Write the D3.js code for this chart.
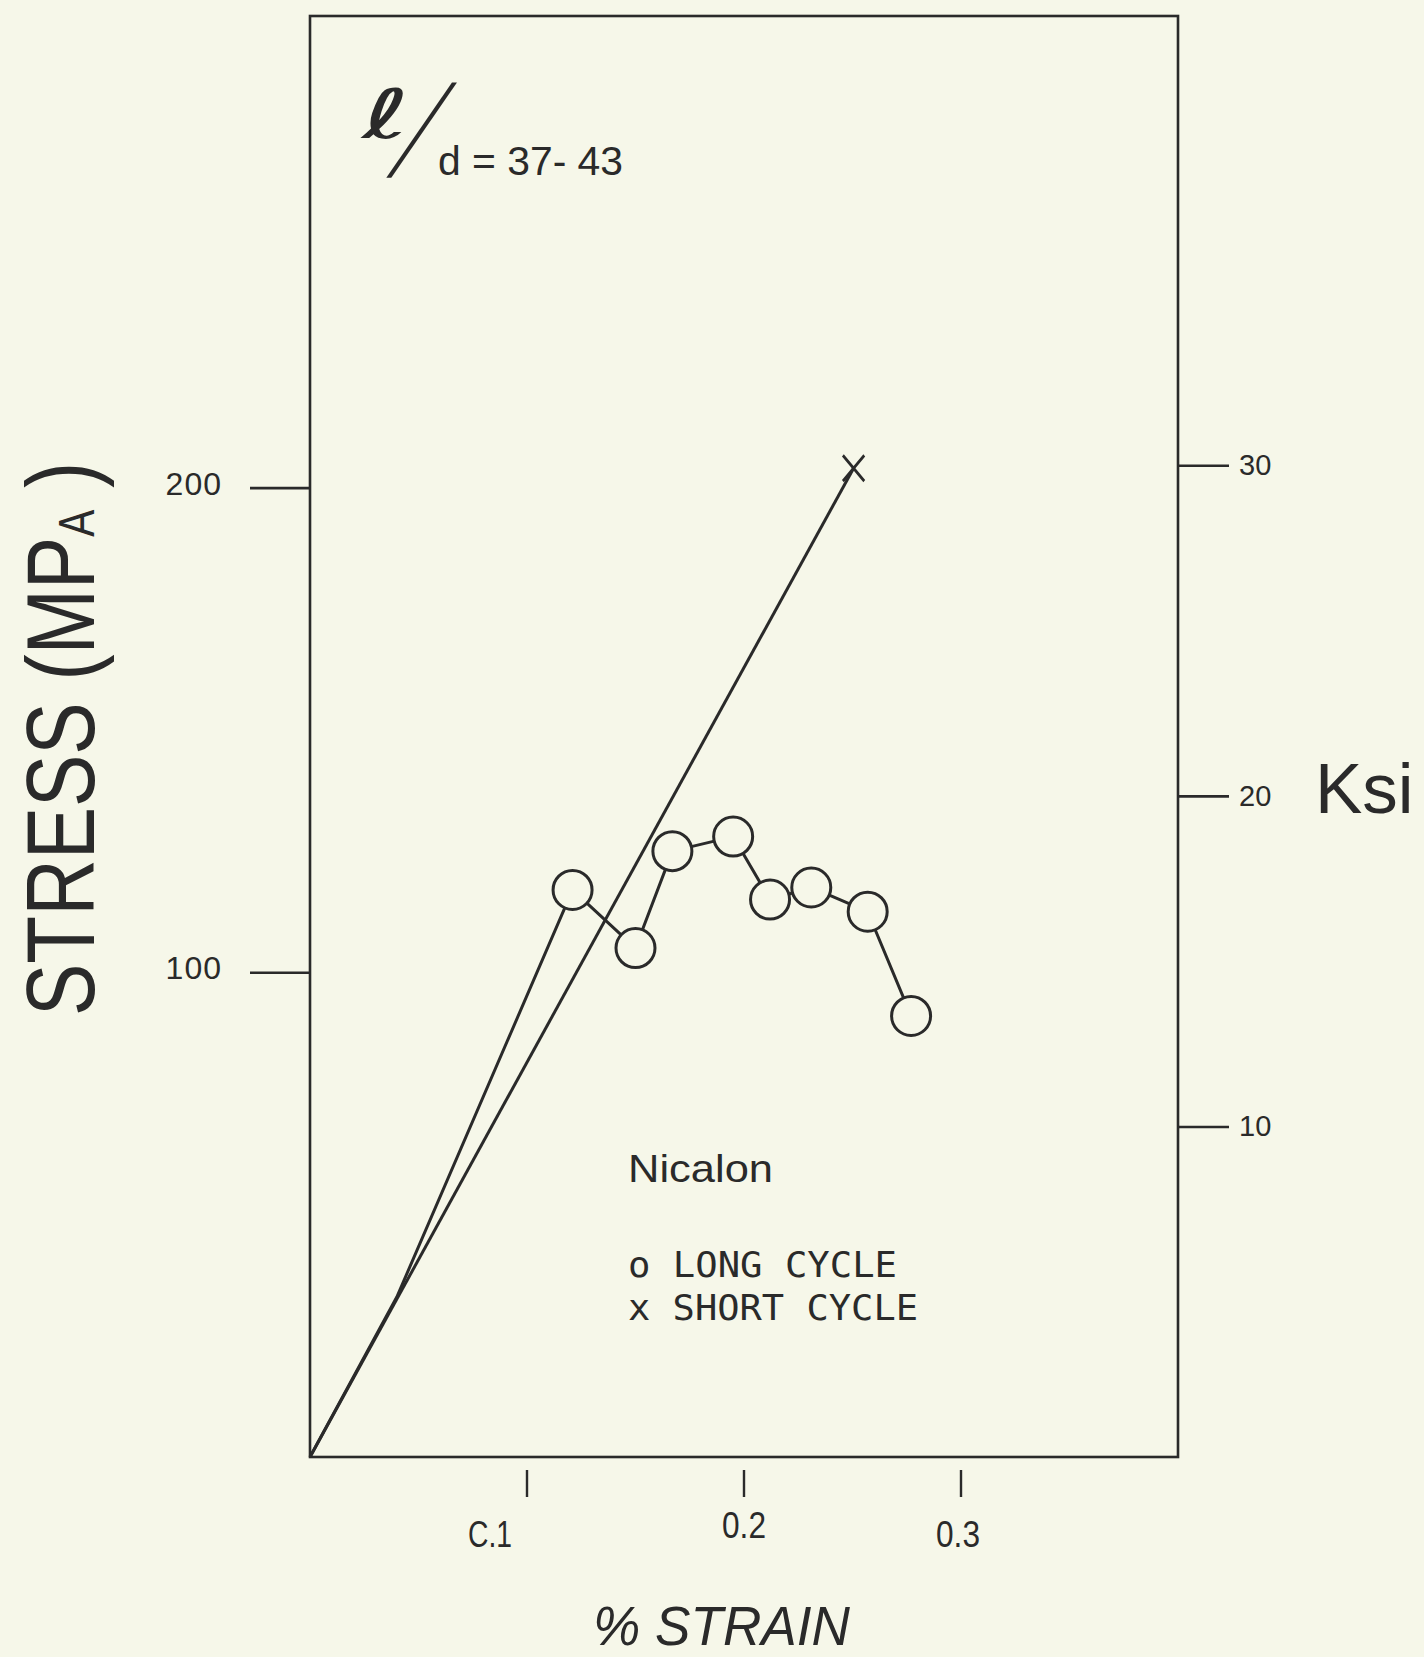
<!DOCTYPE html>
<html><head><meta charset="utf-8">
<script src="https://cdn.jsdelivr.net/npm/d3@7"></script>
<style>html,body{margin:0;padding:0;background:#f6f7e9;} svg{display:block;}</style>
</head><body>
<svg id="chart" width="1424" height="1657"></svg>
<script>
// ---- data ----
const xTickValues = [0.1, 0.2, 0.3];
const xTickLabels = ["C.1", "0.2", "0.3"];
const yTickValuesMPa = [100, 200];
const yTickValuesKsi = [10, 20, 30];
const longCycleStrain = [0.121, 0.150, 0.167, 0.195, 0.212, 0.231, 0.257, 0.277];
const longCycleStress = [117, 105, 125, 128, 115, 117.5, 112.5, 91];
const longLoadStrain = [0, 0.040, 0.121];
const longLoadStress = [0, 33, 117];
const shortCycleStrain = [0, 0.2505];
const shortCycleStress = [0, 204];
const MPA_PER_KSI = 6.82;

// ---- setup ----
const ink = "#2a2a2a", bg = "#f6f7e9";
const svg = d3.select("#chart");
svg.append("rect").attr("width", 1424).attr("height", 1657).attr("fill", bg);

const xMax = 0.4, yMax = 297.3;
const x = d3.scaleLinear().domain([0, xMax]).range([310, 1178]);
const y = d3.scaleLinear().domain([0, yMax]).range([1457, 16]);
const yKsi = d3.scaleLinear().domain([0, yMax / MPA_PER_KSI]).range([1457, 16]);

// frame
svg.append("rect")
  .attr("x", x(0)).attr("y", y(yMax))
  .attr("width", x(xMax) - x(0)).attr("height", y(0) - y(yMax))
  .attr("fill", "none").attr("stroke", ink).attr("stroke-width", 2.6);

// left axis (MPa)
const gl = svg.append("g").attr("transform", `translate(${x(0)},0)`)
  .call(d3.axisLeft(y).tickValues(yTickValuesMPa).tickSize(60).tickPadding(28).tickFormat(d3.format("d")));
gl.select(".domain").remove();
gl.selectAll("line").attr("stroke", ink).attr("stroke-width", 2.6);
gl.selectAll("text").attr("fill", ink).attr("font-family", "Liberation Sans, Arial, sans-serif")
  .attr("font-size", 32).attr("dy", "0.2em").attr("letter-spacing", 1);

// right axis (ksi)
const gr = svg.append("g").attr("transform", `translate(${x(xMax)},0)`)
  .call(d3.axisRight(yKsi).tickValues(yTickValuesKsi).tickSize(51).tickPadding(10).tickFormat(d3.format("d")));
gr.select(".domain").remove();
gr.selectAll("line").attr("stroke", ink).attr("stroke-width", 2.6);
gr.selectAll("text").attr("fill", ink).attr("font-family", "Liberation Sans, Arial, sans-serif")
  .attr("font-size", 29);

// bottom ticks (detached from the frame)
const labelDx = [-37, 0, -3], labelY = [1547, 1538, 1547];
const gb = svg.append("g");
xTickValues.forEach((v, i) => {
  gb.append("line").attr("x1", x(v)).attr("x2", x(v)).attr("y1", y(0) + 13).attr("y2", y(0) + 40)
    .attr("stroke", ink).attr("stroke-width", 2.4);
  gb.append("text").attr("x", x(v) + labelDx[i]).attr("y", labelY[i])
    .attr("text-anchor", "middle").attr("fill", ink)
    .attr("font-family", "Liberation Sans, Arial, sans-serif").attr("font-size", 36)
    .attr("textLength", 44).attr("lengthAdjust", "spacingAndGlyphs")
    .text(xTickLabels[i]);
});

// lines
const line = d3.line().x(d => x(d[0])).y(d => y(d[1]));
const shortPts = shortCycleStrain.map((s, i) => [s, shortCycleStress[i]]);
const loadPts = longLoadStrain.map((s, i) => [s, longLoadStress[i]]);
const longPts = longCycleStrain.map((s, i) => [s, longCycleStress[i]]);
[shortPts, loadPts, longPts].forEach(p => {
  svg.append("path").attr("d", line(p)).attr("fill", "none")
    .attr("stroke", ink).attr("stroke-width", 3).attr("stroke-linejoin", "round");
});

// circles
svg.append("g").selectAll("circle").data(longPts).join("circle")
  .attr("cx", d => x(d[0])).attr("cy", d => y(d[1])).attr("r", 19.5)
  .attr("fill", bg).attr("stroke", ink).attr("stroke-width", 3);

// X marker at end of short cycle
const xe = shortPts[shortPts.length - 1];
const xs = d3.symbol(d3.symbolTimes, 300);
svg.append("path").attr("d", xs())
  .attr("transform", `translate(${x(xe[0])},${y(xe[1])}) scale(1,1.2)`)
  .attr("fill", "none").attr("stroke", ink).attr("stroke-width", 2.6);

// axis titles
const sans = "Liberation Sans, Arial, sans-serif";
const st = svg.append("text").attr("transform", "translate(94,1016) rotate(-90)")
  .attr("fill", ink).attr("font-family", sans).attr("font-size", 97)
  .attr("textLength", 554).attr("lengthAdjust", "spacingAndGlyphs");
st.append("tspan").text("STRESS (MP");
st.append("tspan").attr("font-size", 50).text("A");
st.append("tspan").text(" )");

svg.append("text").attr("x", 1315).attr("y", 813).attr("fill", ink)
  .attr("font-family", sans).attr("font-size", 71).text("Ksi");

svg.append("text").attr("x", 593).attr("y", 1645).attr("fill", ink)
  .attr("font-family", sans).attr("font-size", 56).attr("font-style", "italic")
  .attr("textLength", 257).attr("lengthAdjust", "spacingAndGlyphs").text("% STRAIN");

// annotation l/d
svg.append("text").attr("transform", "translate(362,138) scale(1.7,1)").attr("fill", ink)
  .attr("font-family", "DejaVu Sans, sans-serif").attr("font-size", 68).text("ℓ");
svg.append("text").attr("transform", "translate(392,166.5) skewX(-27.9) scale(1,1.933)")
  .attr("fill", ink).attr("font-family", "DejaVu Sans, sans-serif").attr("font-size", 60).text("/");
svg.append("text").attr("x", 438).attr("y", 175).attr("fill", ink)
  .attr("font-family", sans).attr("font-size", 41)
  .attr("textLength", 185).attr("lengthAdjust", "spacingAndGlyphs").text("d = 37- 43");

// legend
svg.append("text").attr("x", 628).attr("y", 1182).attr("fill", ink)
  .attr("font-family", sans).attr("font-size", 39)
  .attr("textLength", 145).attr("lengthAdjust", "spacingAndGlyphs").text("Nicalon");
const mono = "DejaVu Sans Mono, monospace";
svg.append("text").attr("x", 628).attr("y", 1277).attr("fill", ink)
  .attr("font-family", mono).attr("font-size", 36)
  .attr("textLength", 269).attr("lengthAdjust", "spacingAndGlyphs").text("o LONG CYCLE");
svg.append("text").attr("x", 628).attr("y", 1320).attr("fill", ink)
  .attr("font-family", mono).attr("font-size", 36)
  .attr("textLength", 290).attr("lengthAdjust", "spacingAndGlyphs").text("x SHORT CYCLE");
</script>
</body></html>
